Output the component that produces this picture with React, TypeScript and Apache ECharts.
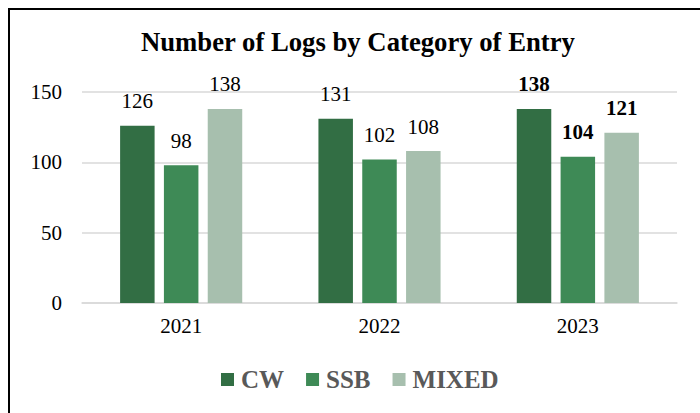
import React, { useEffect, useRef } from "react";
import * as echarts from "echarts";

const categories = ["2021", "2022", "2023"];
const seriesNames = ["CW", "SSB", "MIXED"];
const cwValues = [126, 131, 138];
const ssbValues = [98, 102, 104];
const mixedValues = [138, 108, 121];
const boldCategory = "2023";
const yTicks = { min: 0, max: 150, interval: 50 };

const colors = ["#326E44", "#3E8A56", "#A7BFAE"];
const FONT = "'Liberation Serif', 'Times New Roman', serif";

export default function App() {
  const ref = useRef<HTMLDivElement>(null);
  useEffect(() => {
    if (!ref.current) return;
    const chart = echarts.init(ref.current, null, { renderer: "svg" });
    const allValues = [cwValues, ssbValues, mixedValues];
    const series = seriesNames.map((name, si) => ({
      name,
      type: "bar",
      barWidth: 34.5,
      barGap: "27%",
      itemStyle: { color: colors[si] },
      label: {
        show: true,
        position: "top",
        distance: 14,
        fontFamily: FONT,
        fontSize: 21,
        color: "#000",
      },
      data: allValues[si].map((v, ci) => ({
        value: v,
        label: categories[ci] === boldCategory ? { fontWeight: "bold" } : undefined,
      })),
    }));
    chart.setOption({
      animation: false,
      backgroundColor: "#fff",
      title: {
        text: "Number of Logs by Category of Entry",
        left: 141,
        top: 28,
        padding: 0,
        textStyle: { fontFamily: FONT, fontSize: 26.7, fontWeight: "bold", color: "#000" },
      },
      legend: {
        data: seriesNames,
        left: 221,
        top: 367,
        padding: 0,
        itemWidth: 13,
        itemHeight: 13,
        itemGap: 22,
        icon: "rect",
        textStyle: { fontFamily: FONT, fontSize: 25, fontWeight: "bold", color: "#595959", padding: [0, 0, 0, 2] },
      },
      grid: { left: 82, right: 23, top: 92, bottom: 110 },
      xAxis: {
        type: "category",
        data: categories,
        axisLine: { lineStyle: { color: "#d9d9d9", width: 1.5 } },
        axisTick: { show: false },
        axisLabel: { fontFamily: FONT, fontSize: 21, color: "#000", margin: 12 },
      },
      yAxis: {
        type: "value",
        min: yTicks.min,
        max: yTicks.max,
        interval: yTicks.interval,
        axisLine: { show: false },
        axisTick: { show: false },
        splitLine: { lineStyle: { color: "#d9d9d9", width: 1.5 } },
        axisLabel: { fontFamily: FONT, fontSize: 21, color: "#000", margin: 20 },
      },
      graphic: [
        {
          type: "rect",
          shape: { x: 9, y: 9, width: 800, height: 600 },
          style: { fill: "none", stroke: "#000", lineWidth: 2 },
          silent: true,
        },
      ],
      series,
    });
    return () => chart.dispose();
  }, []);
  return (
    <div
      ref={ref}
      style={{ position: "fixed", left: 0, top: 0, width: 700, height: 413 }}
    />
  );
}
